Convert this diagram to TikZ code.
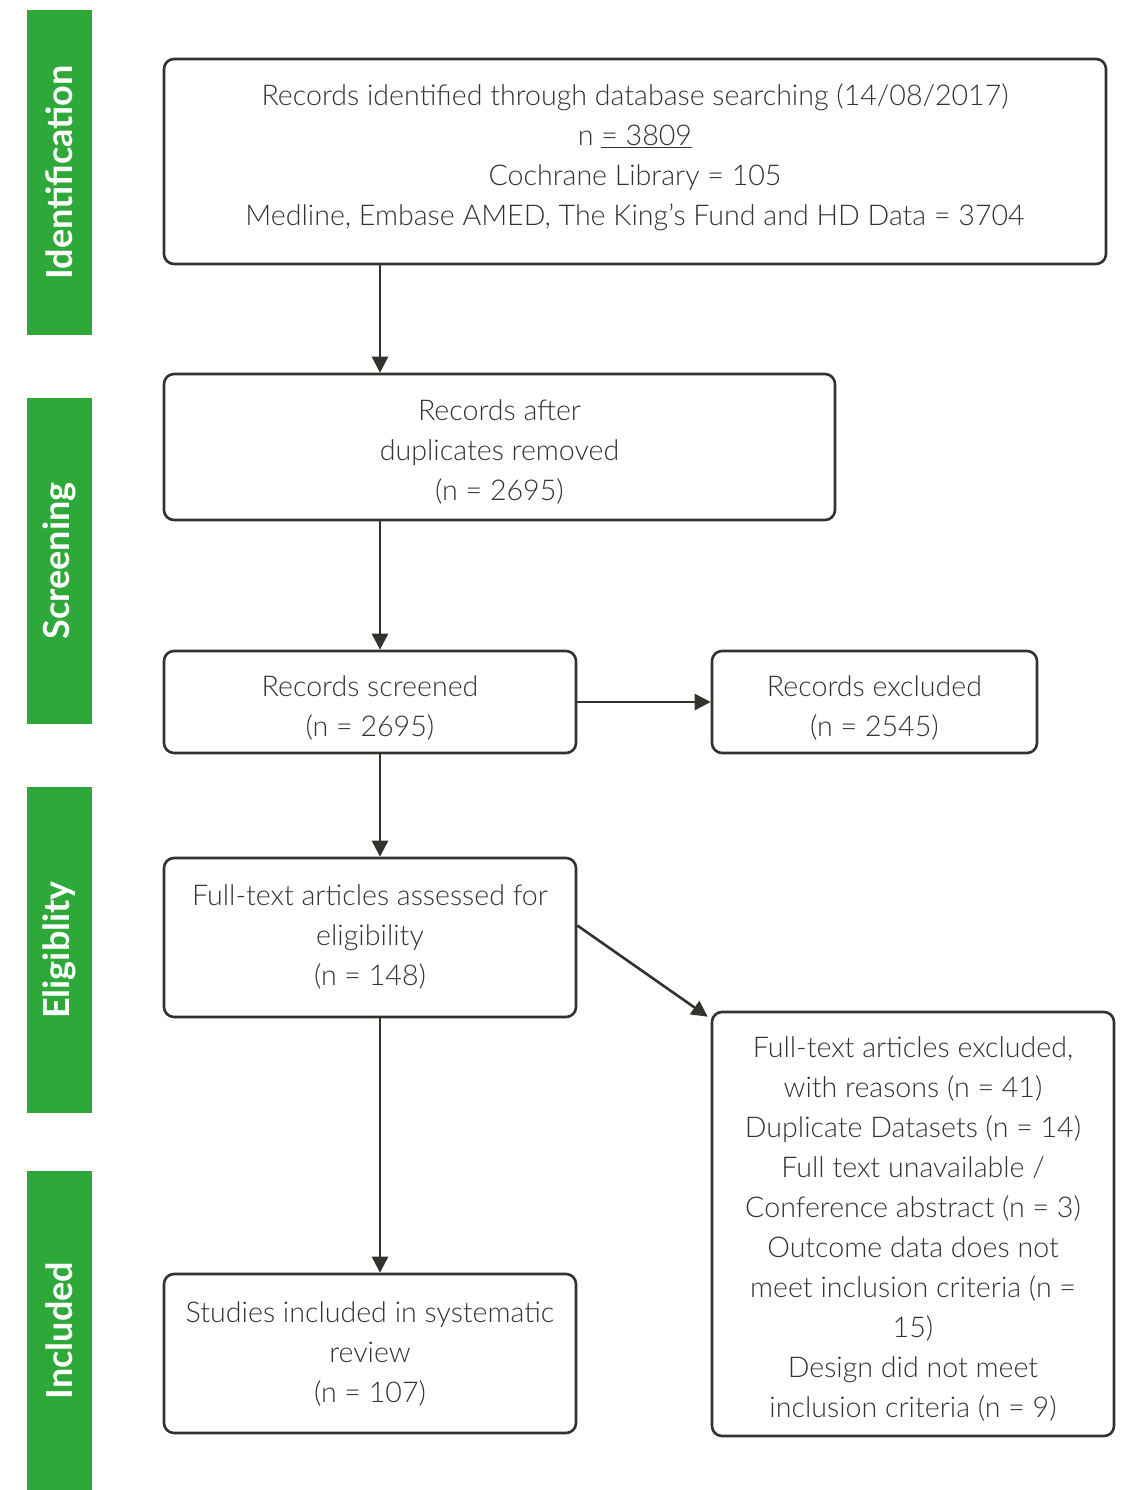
\documentclass[tikz,border=0pt]{standalone}
\usepackage{fontspec}
\setmainfont{Lato Light}
\newfontfamily\barfont{Lato}
\usetikzlibrary{arrows.meta}
\definecolor{barg}{HTML}{2FA83A}
\definecolor{ink}{HTML}{33332E}
\begin{document}
\begin{tikzpicture}[x=1pt,y=-1pt,
  box/.style={draw=ink, line width=2.6pt, rounded corners=10pt, inner sep=0pt},
  txt/.style={align=center, text=ink, inner sep=0pt, font=\fontsize{28.6}{40}\selectfont},
  bar/.style={fill=barg, draw=none, minimum width=65pt, inner sep=0pt},
  bartxt/.style={text=white, rotate=90, font=\barfont\fontsize{36}{40}\selectfont\bfseries},
  arr/.style={draw=ink, line width=2.6pt, -{Triangle[length=16pt,width=16pt]}}]
\useasboundingbox (0,0) rectangle (1122,1490);
% sidebars
\node[bar, minimum height=325pt] (b1) at (59.5,172.5) {};
\node[bar, minimum height=326pt] (b2) at (59.5,561) {};
\node[bar, minimum height=326pt] (b3) at (59.5,950) {};
\node[bar, minimum height=319pt] (b4) at (59.5,1330.5) {};
\node[bartxt] (l1) at (b1) {Identification};
\node[bartxt] (l2) at (b2) {Screening};
\node[bartxt] (l3) at (b3) {Eligiblity};
\node[bartxt] (l4) at (b4) {Included};
% boxes
\node[box, minimum width=942pt, minimum height=205pt] (id) at (635,161.5) {};
\node[box, minimum width=671pt, minimum height=146pt] (dup) at (499.5,447) {};
\node[box, minimum width=412pt, minimum height=102pt] (scr) at (370,702) {};
\node[box, minimum width=325pt, minimum height=102pt] (exc) at (874.5,702) {};
\node[box, minimum width=412pt, minimum height=159pt] (ft) at (370,937.5) {};
\node[box, minimum width=402pt, minimum height=424pt] (fx) at (913,1224) {};
\node[box, minimum width=412pt, minimum height=159pt] (inc) at (370,1353.5) {};
% texts
\node[txt] (idt) at (635,157)
  {Records identified through database searching (14/08/2017)\\ n \underline{= 3809}\\ Cochrane Library = 105\\ Medline, Embase AMED, The King’s Fund and HD Data = 3704};
\node[txt] (dupt) at (499.5,452) {Records after\\ duplicates removed\\ (n = 2695)};
\node[txt] (scrt) at (370,708) {Records screened\\ (n = 2695)};
\node[txt] (exct) at (874.5,708) {Records excluded\\ (n = 2545)};
\node[txt] (ftt) at (370,937) {Full-text articles assessed for\\ eligibility\\ (n = 148)};
\node[txt] (fxt) at (913,1229)
  {Full-text articles excluded,\\ with reasons (n = 41)\\ Duplicate Datasets (n = 14)\\ Full text unavailable /\\ Conference abstract (n = 3)\\ Outcome data does not\\ meet inclusion criteria (n =\\ 15)\\ Design did not meet\\ inclusion criteria (n = 9)};
\node[txt] (inct) at (370,1354) {Studies included in systematic\\ review\\ (n = 107)};
% connectors
\coordinate (axis) at (380,0);
\draw[arr] (id.south -| axis) -- (dup.north -| axis);
\draw[arr] (dup.south -| axis) -- (scr.north -| axis);
\draw[arr] (scr.south -| axis) -- (ft.north -| axis);
\draw[arr] (ft.south -| axis) -- (inc.north -| axis);
\draw[arr] (scr.east) -- (exc.west);
\draw[arr] ([yshift=12pt]ft.east) -- ([xshift=-3pt,yshift=-6pt]fx.north west);
\end{tikzpicture}
\end{document}
